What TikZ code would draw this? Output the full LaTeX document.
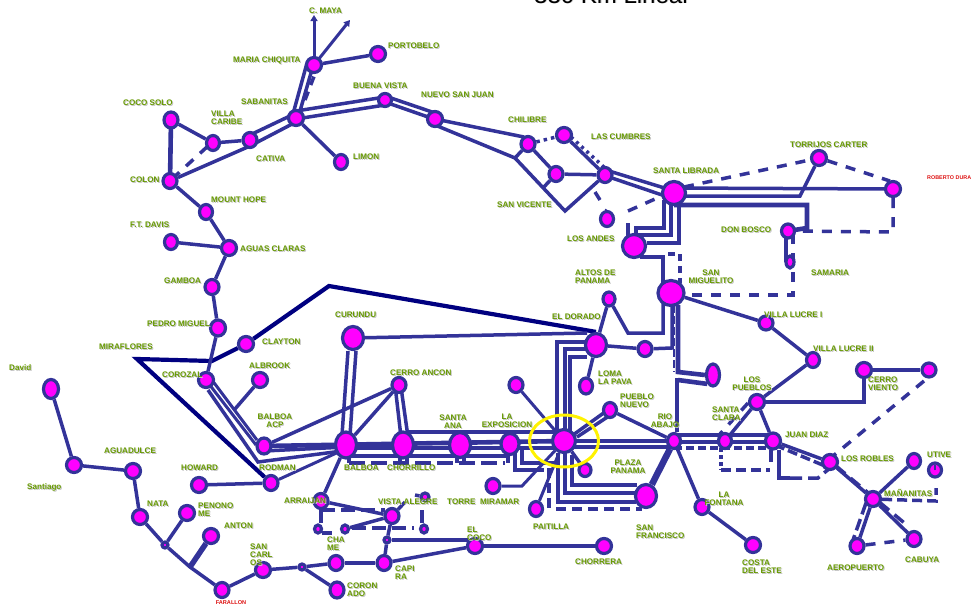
\documentclass[tikz,border=0pt]{standalone}
\usepackage{fontspec}
\setmainfont{Liberation Sans}
\usetikzlibrary{shapes.geometric,arrows.meta}
\pgfdeclarelayer{bg}
\pgfsetlayers{bg,main}
\definecolor{ln}{HTML}{333399}
\definecolor{nv}{HTML}{000080}
\definecolor{mg}{HTML}{FF00FF}
\definecolor{gr}{HTML}{669900}
\definecolor{shd}{HTML}{C4C4C4}
\definecolor{rd}{HTML}{DD1111}
\newcommand\sh[1]{\leavevmode\rlap{\kern1pt\raisebox{-1pt}{\textcolor{shd}{#1}}}#1}
\newcommand\lb[3]{\node[lab] (#1) at (#2) {\sh{#3}};}
\newcommand\lm[3]{\node[lab,align=left] (#1) at (#2) {#3};}
\newcommand\lc[3]{\node[lab,align=center,anchor=center] (#1) at (#2) {#3};}
\tikzset{
 x=1pt,y=-1pt,
 st/.style 2 args={ellipse,draw=ln,fill=mg,line width=3.2pt,inner sep=0pt,minimum width=#1pt,minimum height=#2pt},
 lab/.style={anchor=west,inner sep=0pt,text=gr,font=\fontsize{8.1}{8}\selectfont\bfseries},
 l/.style={draw=ln,line width=3.5pt,line join=miter},
 lt/.style={draw=ln,line width=4.6pt},
 d/.style={draw=ln,line width=3.5pt,dash pattern=on 10pt off 9pt},
 dt/.style={draw=ln,line width=3.5pt,dash pattern=on 3pt off 4pt},
 n/.style={draw=nv,line width=4.2pt,line join=miter},
}
\begin{document}
\begin{tikzpicture}
\useasboundingbox (0,0) rectangle (974,605);
% nodes
\node[st={14}{16}] (cocosolo) at (171,120) {};
\node[st={13}{15}] (vcaribe) at (213,143) {};
\node[st={14}{15}] (cativa) at (250,140) {};
\node[st={14}{15}] (colon) at (170,181) {};
\node[st={15}{15}] (sabanitas) at (296,118) {};
\node[st={15}{15}] (mchiquita) at (314,65) {};
\node[st={15}{15}] (portobelo) at (378,54) {};
\node[st={13}{13}] (bvista) at (385,100) {};
\node[st={15}{15}] (nsanjuan) at (435,119) {};
\node[st={13}{15}] (limon) at (341,162) {};
\node[st={13}{15}] (mhope) at (206,212) {};
\node[st={13}{15}] (ftdavis) at (171,242) {};
\node[st={15}{15}] (aclaras) at (229,248) {};
\node[st={14}{15}] (gamboa) at (212,287) {};
\node[st={15}{16}] (pmiguel) at (218,328) {};
\node[st={15}{15}] (clayton) at (246,344) {};
\node[st={15}{15}] (corozal) at (206,380) {};
\node[st={15}{15}] (albrook) at (260,380) {};
\node[st={14}{16}] (acp) at (264,446) {};
\node[st={14}{15}] (rodman) at (271,483) {};
\node[st={15}{15}] (howard) at (199,485) {};
\node[st={15}{19}] (david) at (51,389) {};
\node[st={15}{15}] (santiago) at (74,465) {};
\node[st={15}{15}] (aguadulce) at (133,471) {};
\node[st={15}{15}] (nata) at (140,517) {};
\node[st={15}{15}] (penonome) at (187,513) {};
\node[st={6}{6}] (j1) at (165,545) {};
\node[st={15}{15}] (anton) at (211,536) {};
\node[st={14}{15}] (farallon) at (222,590) {};
\node[st={15}{15}] (sancarlos) at (263,570) {};
\node[st={6}{6}] (j2) at (302,567) {};
\node[st={14}{15}] (chame) at (336,563) {};
\node[st={14}{15}] (capira) at (384,563) {};
\node[st={14}{16}] (coronado) at (337,590) {};
\node[st={6}{6}] (j3) at (387,540) {};
\node[st={15}{15}] (elcoco) at (475,546) {};
\node[st={15}{15}] (chorrera) at (604,546) {};
\node[st={21}{26}] (balboa) at (346,445) {};
\node[st={21}{26}] (chorrillo) at (403,445) {};
\node[st={21}{25}] (santaana) at (460,445) {};
\node[st={18}{21}] (lexpo) at (510,444) {};
\node[st={23}{23}] (center) at (564,441) {};
\node[st={14}{15}] (ancon) at (399,385) {};
\node[st={21}{23}] (curundu) at (353,338) {};
\node[st={14}{15}] (arraijan) at (321,501) {};
\node[st={14}{15}] (valegre) at (392,516) {};
\node[st={8}{8}] (va1) at (425,497) {};
\node[st={7}{8}] (sm1) at (318,529) {};
\node[st={7}{8}] (sm2) at (345,529) {};
\node[st={7}{8}] (sm3) at (424,529) {};
\node[st={14}{15}] (miramar) at (493,486) {};
\node[st={13}{15}] (paitilla) at (536,509) {};
\node[st={12}{13}] (pplaza) at (585,470) {};
\node[st={14}{15}] (ntop) at (516,385) {};
\node[st={13}{16}] (loma) at (586,386) {};
\node[st={21}{23}] (dorado) at (596,345) {};
\node[st={14}{15}] (n645) at (645,349) {};
\node[st={12}{14}] (altos) at (609,299) {};
\node[st={26}{25}] (smiguelito) at (671,293) {};
\node[st={23}{23}] (andes) at (634,246) {};
\node[st={13}{15}] (andes2) at (607,219) {};
\node[st={23}{23}] (slibrada) at (674,193) {};
\node[st={14}{15}] (chilibre) at (528,144) {};
\node[st={15}{15}] (cumbres) at (564,135) {};
\node[st={14}{15}] (n556) at (556,174) {};
\node[st={14}{15}] (n605) at (605,175) {};
\node[st={15}{15}] (torrijos) at (819,158) {};
\node[st={15}{15}] (duran) at (893,189) {};
\node[st={13}{14}] (dbosco) at (788,231) {};
\node[st={8}{12}] (samaria) at (790,262) {};
\node[st={14}{14}] (lucre1) at (766,323) {};
\node[st={13}{15}] (lucre2) at (813,360) {};
\node[st={13}{22}] (n713) at (713,375) {};
\node[st={15}{15}] (cviento) at (864,370) {};
\node[st={14}{14}] (cv2) at (929,370) {};
\node[st={15}{15}] (pueblos) at (757,402) {};
\node[st={13}{15}] (sclara) at (725,441) {};
\node[st={15}{16}] (jdiaz) at (773,441) {};
\node[st={15}{15}] (robles) at (830,462) {};
\node[st={15}{15}] (mananitas) at (873,499) {};
\node[st={13}{15}] (nute) at (914,461) {};
\node[st={13}{14}] (utive) at (935,470) {};
\node[st={14}{15}] (aero) at (857,546) {};
\node[st={14}{15}] (cabuya) at (914,539) {};
\node[st={14}{15}] (fontana) at (702,507) {};
\node[st={15}{15}] (costa) at (753,545) {};
\node[st={13}{15}] (rio) at (674,441) {};
\node[st={13}{15}] (pnuevo) at (610,410) {};
\node[st={21}{23}] (sfran) at (646,496) {};
\coordinate (mira) at (137,359);
\coordinate (navybend) at (329,286);
\coordinate (navyj) at (212,361);
\coordinate (arrA) at (314,15);
\coordinate (arrB) at (350,20);
\coordinate (antonj) at (190,567);
% connectors
\begin{pgfonlayer}{bg}
\draw[n] (dorado.north) -- (navybend) -- (clayton) -- (navyj) -- (mira) -- (rodman);
\draw[lt] (cocosolo.center) -- (colon.center);
\draw[l] (cocosolo) -- (vcaribe);
\draw[l] (vcaribe) -- (cativa);
\draw[d] ([shift={(2,-2)}]colon.center) -- ([shift={(-5,3)}]vcaribe.center);
\draw[l] (colon) -- ([shift={(0,6)}]cativa.center) -- ([shift={(0,4)}]sabanitas.center);
\draw[l] ([shift={(0,-5)}]cativa.center) -- ([shift={(-4,-3)}]sabanitas.center);
\draw[l] ([shift={(-3,-4)}]sabanitas.center) -- ([shift={(-7,-2)}]mchiquita.center);
\draw[l] ([shift={(4,-7)}]sabanitas.center) -- ([shift={(-1,1)}]mchiquita.center);
\draw[d,dash pattern=on 9pt off 7pt] ([shift={(9,-18)}]sabanitas.center) -- ([shift={(4,1)}]mchiquita.center);
\draw[draw=ln,line width=3pt,-{Triangle[length=6pt,width=7pt]}] (mchiquita.center) -- (arrA);
\draw[draw=ln,line width=3pt,-{Triangle[length=6pt,width=7pt]}] (mchiquita.center) -- (arrB);
\draw[l] (mchiquita) -- (portobelo);
\draw[l] ([shift={(0,-7)}]sabanitas.center) -- ([shift={(0,-3)}]bvista.center);
\draw[l] ([shift={(0,1)}]sabanitas.center) -- ([shift={(0,5)}]bvista.center);
\draw[l] ([shift={(3,-3)}]bvista.center) -- ([shift={(0,-6)}]nsanjuan.center);
\draw[l] ([shift={(0,2)}]bvista.center) -- ([shift={(-4,-1)}]nsanjuan.center);
\draw[l] (nsanjuan.center) -- ([shift={(-4,-7)}]chilibre.center);
\draw[l] ([shift={(0,6)}]nsanjuan.center) -- (515,158) -- (chilibre);
\draw[l] (515,158) -- (565,211) -- (n605);
\draw[l] (543,188) -- (n556);
\draw[l] (chilibre) -- (n556);
\draw[l] (n556) -- (n605);
\draw[dt,dash pattern=on 3.5pt off 4pt] (chilibre) -- (cumbres);
\draw[l] (cumbres) -- (n605);
\draw[dt] ([shift={(7,2)}]cumbres.center) -- ([shift={(1,-6)}]n605.center);
\draw[l] ([shift={(4,-4)}]n605.center) -- ([shift={(-3,-3)}]slibrada.center);
\draw[l] ([shift={(4,2)}]n605.center) -- ([shift={(-9,3)}]slibrada.center);
\draw[l] (595,192) -- (600,200);
\draw[d] (andes2.north) -- (606,211);
\draw[d] (628,211) -- ([shift={(-10,2)}]slibrada.center);
\draw[d] ([shift={(10,-6)}]slibrada.center) -- (torrijos);
\draw[d] (torrijos) -- ([shift={(-3,-8)}]duran.center);
\draw[l] ([shift={(0,-5)}]slibrada.center) -- (duran);
\draw[l] ([shift={(0,3)}]slibrada.center) -- (800,196) -- (torrijos);
\draw[lt] ([shift={(0,12)}]slibrada.center) -- (807,205) -- (807,228) -- (dbosco.center);
\draw[d] (duran.south) -- (893,232) -- (dbosco.center);
\draw[lt,line width=3.5pt] (786,231) -- (786,262);
\draw[d] (793,234) -- (793,295) -- ([shift={(14,2)}]smiguelito.center);
\draw[l] (664,200) -- (664,228) -- (636,228) -- (636,238);
\draw[l] (671,203) -- (671,235) -- (637,235);
\draw[lt] (679,207) -- (679,243) -- (647,243);
\draw[l] (628,223) -- (628,236);
\draw[l] (640,257) -- (663,257) -- (663,283);
\draw[d,dash pattern=on 7pt off 5pt] (668,254) -- (680,254) -- (680,283);
\draw[l] (663,300) -- (663,333) -- (628,333) -- (altos);
\draw[l] (altos) -- (dorado);
\draw[l] (672,303) -- (672,348) -- (n645);
\draw[l] (dorado) -- (n645);
\draw[lt] (678,305) -- (678,372) -- (n713.west);
\draw[d,line width=2.5pt,dash pattern=on 8pt off 3pt] (674,305) -- (674,372);
\draw[lt] (678,380) -- (n713.south west);
\draw[lt] (677,378) -- (677,432);
\draw[l] (curundu) -- (587,333);
\draw[l] ([shift={(-5,0)}]curundu.south) -- ([shift={(-4,-10)}]balboa.center);
\draw[l] ([shift={(3,0)}]curundu.south) -- ([shift={(4,-10)}]balboa.center);
\draw[l] (587,342) -- (557,342) -- (557,432);
\draw[lt] (587,349) -- (565,349) -- (565,432);
\draw[l] (587,357) -- (570,357) -- (570,432);
\draw[l] (dorado) -- (loma);
\draw[l,line width=3pt] (center) -- (ntop);
\draw[l] ([shift={(9,-6)}]center.center) -- ([shift={(-5,2)}]pnuevo.center);
\draw[l] ([shift={(13,-4)}]center.center) -- ([shift={(-1,6)}]pnuevo.center);
\draw[l] (pnuevo) -- (rio);
\draw[lt] (center.center) -- (rio.center);
\draw[l] ([shift={(0,6)}]center.center) -- ([shift={(0,6)}]rio.center);
\draw[l] (rio.center |- 0,435) -- (jdiaz.center |- 0,435);
\draw[l] (rio.center |- 0,442) -- (jdiaz.center |- 0,442);
\draw[d,dash pattern=on 8pt off 4pt] (rio.center |- 0,448) -- (jdiaz.center |- 0,448);
\draw[l] (center) -- (pplaza);
\draw[l,line width=3pt] (center) -- (paitilla);
\draw[l,line width=3pt] (center) -- (522,486) -- (miramar);
\draw[l] (572,455) -- (572,485) -- (637,485);
\draw[l] (565,453) -- (565,493) -- (636,493);
\draw[l] (558,453) -- (558,502) -- (636,502);
\draw[d,dash pattern=on 10pt off 6pt] (556,509) -- ([shift={(-4,13)}]sfran.center);
\draw[d,dash pattern=on 10pt off 5pt] (549,468) -- (549,509);
\draw[l] (522,448) -- (522,463) -- (558,463);
\draw[l] (515,452) -- (515,470) -- (535,470);
\draw[d,dash pattern=on 9pt off 5pt] (535,470) -- (551,470);
\draw[l] (508,452) -- (508,463);
\draw[line width=6.5pt,draw=ln] (sfran) -- (rio);
\draw[l] (rio) -- (fontana);
\draw[l] (fontana) -- (costa);
% bus
\draw[l] (407,432) -- (557,432);
\draw[lt] (acp.center) -- (center.center);
\draw[l] (balboa.center |- 0,448) -- (center.center |- 0,448);
\draw[l] (balboa.center |- 0,456) -- (lexpo.center |- 0,456);
\draw[d,dash pattern=on 16pt off 6pt] (349,463) -- (505,463);
\draw[l] (349,455) -- (349,463);
\draw[l] (400,455) -- (400,463);
\draw[l] (407,455) -- (407,463);
\draw[l] (457,455) -- (457,463);
\draw[l] (464,455) -- (464,463);
\draw[l] ([shift={(0,5)}]acp.center) -- ([shift={(0,2)}]balboa.center);
\draw[l] (208,390) -- (258,462) -- ([shift={(-4,6)}]balboa.center);
\draw[l,line width=3pt] ([shift={(6,0)}]corozal.center) -- ([shift={(-7,-6)}]acp.center);
\draw[l,line width=3pt] ([shift={(3,4)}]corozal.center) -- ([shift={(-8,-1)}]acp.center);
\draw[l] (albrook) -- (235,409);
\draw[l] (howard) -- (rodman);
\draw[l,line width=3pt] (rodman) -- ([shift={(-3,5)}]balboa.center);
\draw[l] (acp) -- (ancon);
\draw[l] (balboa) -- (ancon);
\draw[l] ([shift={(-4,0)}]ancon.center) -- ([shift={(-2,-8)}]chorrillo.center);
\draw[l] ([shift={(2,2)}]ancon.center) -- ([shift={(5,-8)}]chorrillo.center);
\draw[l] (balboa) -- (arraijan);
\draw[l] (arraijan) -- (valegre);
\draw[d,dash pattern=on 14pt off 6pt] (321,510) -- (385,510);
\draw[l] (321,510) -- (321,523);
\draw[d,dash pattern=on 10pt off 6pt] (322,533) -- (335,533);
\draw[l] (sm2) -- (valegre);
\draw[d,dash pattern=on 14pt off 6pt] (352,528) -- (414,528);
\draw[l] (422,510) -- (422,523);
\draw[l] (valegre) -- (405,502);
\draw[l] (415,495) -- (va1);
\draw[l] (valegre) -- (j3);
\draw[l] (j3) -- (capira);
\draw[l] (j3) -- (468,540);
\draw[l] (capira) -- (elcoco);
\draw[lt] (elcoco) -- (chorrera);
\draw[lt] (chame) -- (capira);
\draw[l] (sancarlos) -- (j2);
\draw[l] (j2) -- (chame);
\draw[l] (j2) -- (coronado);
\draw[l] (farallon) -- (sancarlos);
\draw[l] (nata) -- (j1);
\draw[l] (j1) -- (antonj) -- (farallon);
\draw[l] (penonome) -- (j1);
\draw[line width=5.5pt,draw=ln] (anton) -- (antonj);
\draw[l] (david) -- (santiago);
\draw[l] (santiago) -- (aguadulce);
\draw[l] (aguadulce) -- (nata);
\draw[l] (aclaras) -- (gamboa);
\draw[l] (gamboa) -- (pmiguel);
\draw[l] (pmiguel) -- (corozal);
\draw[l] (ftdavis) -- (aclaras);
\draw[l] (mhope) -- (aclaras);
\draw[l] (colon) -- (mhope);
\draw[l] (sabanitas) -- (limon);
\draw[l] (smiguelito) -- (lucre1);
\draw[l] (lucre1) -- (lucre2);
\draw[l] (lucre2) -- (pueblos);
\draw[lt] (pueblos) -- (864,402) -- (cviento);
\draw[lt] (cviento) -- (cv2);
\draw[d] ([shift={(-5,11)}]cv2.center) -- ([shift={(3,-6)}]robles.center);
\draw[l] (pueblos) -- (sclara);
\draw[d] (748,403) -- (720,434);
\draw[l] (pueblos) -- (jdiaz);
\draw[l] (jdiaz) -- (robles);
\draw[d,dash pattern=on 10pt off 4pt] (775,445) -- (825,466);
\draw[lt,line width=3.5pt] (771,450) -- (771,462);
\draw[l] (779,450) -- (779,478) -- (790,478);
\draw[d,dash pattern=on 12pt off 6pt] (790,478) -- (818,478) -- (830,468);
\draw[d,dash pattern=on 4pt off 3pt] (721,448) -- (721,470);
\draw[d,dash pattern=on 10pt off 5pt] (721,470) -- (770,470);
\draw[l] (robles) -- (mananitas);
\draw[d,dash pattern=on 12pt off 7pt] (836,466) -- (908,526);
\draw[l] (mananitas) -- (nute);
\draw[l] (mananitas) -- (cabuya);
\draw[l] (mananitas) -- (aero);
\draw[d,dash pattern=on 12pt off 5pt] (866,503) -- (853,540);
\draw[d] (aero) -- (cabuya);
\draw[d,dash pattern=on 10pt off 5pt] (mananitas) -- (936,501) -- (936,488);
\end{pgfonlayer}
\draw[draw=ln,line width=2.2pt] (utive.center) -- ++(0,-5);
% labels
\node[anchor=base west,inner sep=0pt,font=\fontsize{24}{24}\selectfont] (title) at (534,3) {\sh{330 Km Lineal}};
\lb{tcmaya}{309,11}{C. MAYA}
\lb{tporto}{388,46}{PORTOBELO}
\lb{tmaria}{233,61}{MARIA CHIQUITA}
\lb{tsaban}{241,102}{SABANITAS}
\lb{tbuena}{353,86}{BUENA VISTA}
\lb{tnuevo}{421,95}{NUEVO SAN JUAN}
\lb{tcoco}{123,103}{COCO SOLO}
\lm{tvilla}{211,118}{\sh{VILLA}\\\sh{CARIBE}}
\lb{tcativa}{256,159}{CATIVA}
\lb{tlimon}{353,157}{LIMON}
\lb{tcolon}{130,180}{COLON}
\lb{tmount}{211,200}{MOUNT HOPE}
\lb{tdavis}{130,225}{F.T. DAVIS}
\lb{taguas}{240,249}{AGUAS CLARAS}
\lb{tgamboa}{164,281}{GAMBOA}
\lb{tpedro}{147,324}{PEDRO MIGUEL}
\lb{tmira}{99,347}{MIRAFLORES}
\lb{tclay}{262,342}{CLAYTON}
\lb{tcuru}{335,315}{CURUNDU}
\lb{talb}{249,366}{ALBROOK}
\lb{tcoro}{162,375}{COROZAL}
\lb{tdav}{9,368}{David}
\lb{tagua}{104,451}{AGUADULCE}
\lb{tsant}{27,488}{Santiago}
\lb{thow}{181,468}{HOWARD}
\lc{tacp}{275,421}{\sh{BALBOA}\\\sh{ACP}}
\lb{trod}{259,468}{RODMAN}
\lb{tnata}{147,504}{NATA}
\node[lab,align=left,font=\fontsize{8.1}{6}\selectfont\bfseries] (tpen) at (198,510) {\sh{PENONO}\\\sh{ME}};
\lb{tanton}{224,526}{ANTON}
\node[lab,align=left,font=\fontsize{8.1}{5.6}\selectfont\bfseries] (tscar) at (250,555) {\sh{SAN}\\\sh{CARL}\\\sh{OS}};
\node[anchor=center,inner sep=0pt,text=rd,font=\fontsize{5.6}{6}\selectfont\bfseries] (tfar) at (231,603) {FARALLON};
\node[lab,align=left,font=\fontsize{8.1}{6.5}\selectfont\bfseries] (tcha) at (327,544) {\sh{CHA}\\\sh{ME}};
\node[lab,align=left,font=\fontsize{8.1}{6}\selectfont\bfseries] (tcap) at (395,573) {\sh{CAPI}\\\sh{RA}};
\node[lab,align=left,font=\fontsize{8.1}{6}\selectfont\bfseries] (tcor) at (347,590) {\sh{CORON}\\\sh{ADO}};
\lb{tarr}{284,501}{ARRAIJAN}
\lb{tvis}{378,502}{VISTA ALEGRE}
\lb{ttorre}{447,502}{TORRE}
\lb{tmir}{480,502}{MIRAMAR}
\lb{tbal}{344,468}{BALBOA}
\lb{tcho}{387,468}{CHORRILLO}
\lb{tanc}{390,373}{CERRO ANCON}
\lc{tsana}{453,422}{\sh{SANTA}\\\sh{ANA}}
\lc{texpo}{507,421}{\sh{LA}\\\sh{EXPOSICION}}
\node[lab,align=left,font=\fontsize{8.1}{6}\selectfont\bfseries] (tel) at (467,534) {\sh{EL}\\\sh{COCO}};
\lb{tchorr}{575,562}{CHORRERA}
\lb{tpai}{533,527}{PAITILLA}
\lm{tsf}{636,532}{\sh{SAN}\\\sh{FRANCISCO}}
\lc{tpp}{628,467}{\sh{PLAZA}\\\sh{PANAMA}}
\lm{tloma}{598,378}{\sh{LOMA}\\\sh{LA PAVA}}
\lm{tpn}{620,401}{\sh{PUEBLO}\\\sh{NUEVO}}
\lc{trio}{665,421}{\sh{RIO}\\\sh{ABAJO}}
\lb{tdor}{552,317}{EL DORADO}
\lm{talt}{575,277}{\sh{ALTOS DE}\\\sh{PANAMA}}
\lc{tsm}{711,277}{\sh{SAN}\\\sh{MIGUELITO}}
\lb{tand}{567,239}{LOS ANDES}
\lb{tvic}{497,205}{SAN VICENTE}
\lb{tchi}{508,120}{CHILIBRE}
\lb{tcum}{591,137}{LAS CUMBRES}
\lb{tsl}{653,171}{SANTA LIBRADA}
\lb{ttor}{790,145}{TORRIJOS CARTER}
\node[anchor=west,inner sep=0pt,text=rd,font=\fontsize{5.4}{6}\selectfont\bfseries] (tdur) at (927,178) {ROBERTO DURA};
\lb{tdon}{721,230}{DON BOSCO}
\lb{tsam}{811,273}{SAMARIA}
\lb{tl1}{764,315}{VILLA LUCRE I}
\lb{tl2}{813,349}{VILLA LUCRE II}
\lm{tcv}{868,384}{\sh{CERRO}\\\sh{VIENTO}}
\node[lab,align=center,anchor=center,font=\fontsize{8.1}{6}\selectfont\bfseries] (tlp) at (752,384) {\sh{LOS}\\\sh{PUEBLOS}};
\lm{tsc}{712,414}{\sh{SANTA}\\\sh{CLARA}}
\lb{tjd}{785,435}{JUAN DIAZ}
\lb{trob}{841,459}{LOS ROBLES}
\lb{tuti}{927,455}{UTIVE}
\lb{tman}{884,493}{MAÑANITAS}
\lc{tfon}{724,499}{\sh{LA}\\\sh{FONTANA}}
\lm{tcos}{742,567}{\sh{COSTA}\\\sh{DEL ESTE}}
\lb{taer}{827,568}{AEROPUERTO}
\lb{tcab}{905,560}{CABUYA}
% highlight ellipse
\node[ellipse,draw=yellow,line width=3pt,minimum width=69pt,minimum height=52pt,inner sep=0pt] (hl) at (564,441) {};
\end{tikzpicture}
\end{document}
